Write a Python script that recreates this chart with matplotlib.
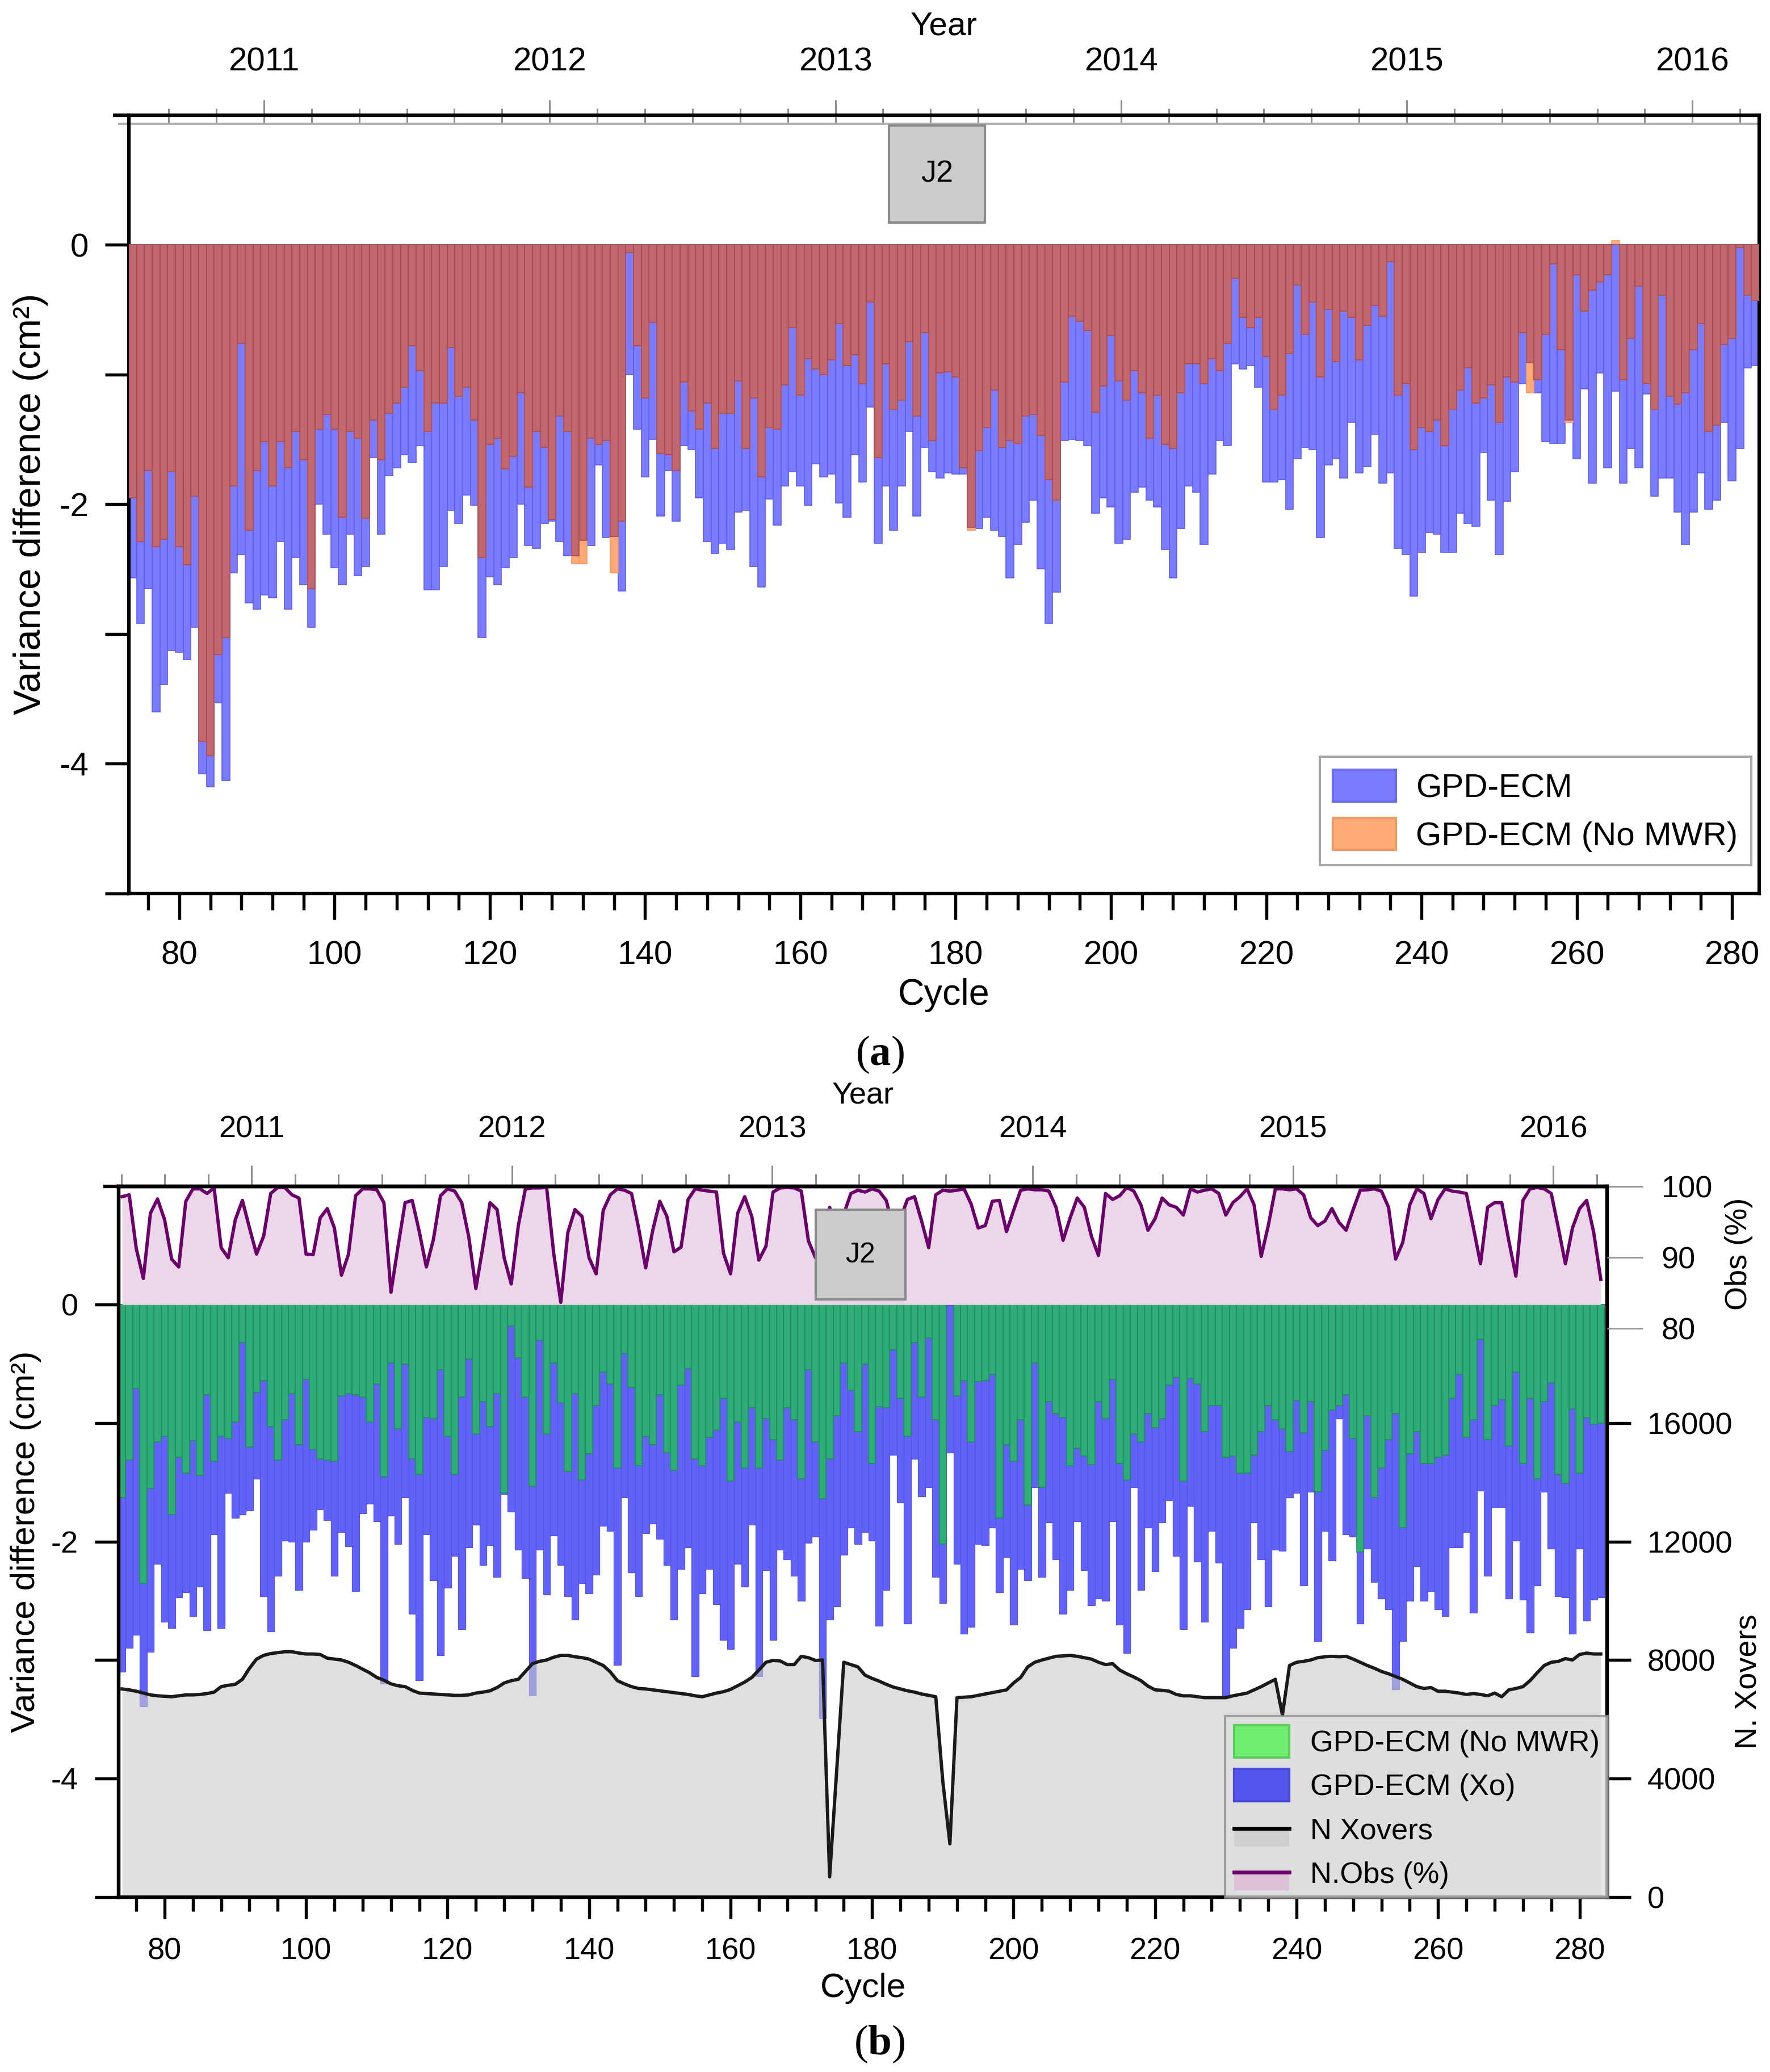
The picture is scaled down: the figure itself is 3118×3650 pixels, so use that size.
import numpy as np
import matplotlib
matplotlib.use("Agg")
import matplotlib.pyplot as plt
from matplotlib.patches import Patch, Rectangle
from matplotlib.lines import Line2D
from matplotlib.legend_handler import HandlerBase
from matplotlib.ticker import FixedLocator, FormatStrFormatter, NullFormatter

plt.rcParams['font.family'] = ['Liberation Sans', 'DejaVu Sans']
plt.rcParams['axes.unicode_minus'] = False
plt.rcParams['mathtext.fontset'] = 'custom'
plt.rcParams['mathtext.rm'] = 'Liberation Serif'
plt.rcParams['mathtext.bf'] = 'Liberation Serif:bold'

# ---------------- data ----------------
cycles = np.arange(74, 284)

# panel (a)
gpd_ecm_a = [
    -2.57, -2.92, -2.65, -3.60, -3.39, -3.13, -3.14, -3.20, -2.95, -4.08,
    -4.18, -3.53, -4.13, -2.53, -2.39, -2.76, -2.81, -2.70, -2.72, -2.29,
    -2.81, -2.41, -2.62, -2.95, -2.00, -2.23, -2.49, -2.62, -2.23, -2.55,
    -2.48, -1.64, -2.23, -1.78, -1.72, -1.62, -1.68, -1.55, -2.66, -2.66,
    -2.48, -2.05, -2.15, -1.93, -2.01, -3.03, -2.56, -2.62, -2.49, -2.41,
    -2.00, -2.32, -2.34, -2.15, -2.13, -2.29, -2.40, -2.40, -2.28, -2.32,
    -1.70, -2.26, -2.25, -2.67, -1.00, -1.42, -1.79, -1.50, -2.09, -1.74,
    -2.13, -1.55, -1.58, -1.95, -2.29, -2.38, -2.30, -2.35, -2.06, -2.05,
    -2.48, -2.64, -1.96, -2.16, -1.86, -1.75, -1.86, -2.01, -1.69, -1.79,
    -1.77, -1.99, -2.10, -1.62, -1.83, -1.25, -2.30, -1.86, -2.20, -1.86,
    -1.44, -2.09, -1.56, -1.75, -1.80, -1.76, -1.77, -1.77, -2.18, -2.19,
    -2.10, -2.20, -2.25, -2.57, -2.31, -2.14, -1.97, -2.50, -2.92, -2.68,
    -1.51, -1.50, -1.51, -1.55, -2.07, -1.95, -2.02, -2.30, -2.27, -1.91,
    -1.87, -1.97, -2.02, -2.35, -2.57, -2.19, -1.86, -1.91, -2.31, -1.77,
    -1.51, -1.55, -0.92, -0.96, -0.93, -1.10, -1.83, -1.83, -1.81, -2.04,
    -1.65, -1.56, -1.58, -2.26, -1.70, -1.65, -1.80, -1.37, -1.76, -1.71,
    -1.46, -1.84, -1.76, -2.34, -2.39, -2.71, -2.37, -2.22, -2.23, -2.37,
    -2.37, -2.07, -2.15, -2.17, -1.60, -1.97, -2.39, -1.98, -1.75, -1.07,
    -0.91, -1.14, -1.52, -1.53, -1.53, -1.35, -1.65, -1.11, -1.84, -0.99,
    -1.72, -1.13, -1.84, -1.57, -1.72, -1.15, -1.94, -1.80, -1.80, -2.06,
    -2.31, -2.06, -1.76, -2.04, -1.97, -1.37, -1.82, -1.57, -0.95, -0.93,
]
gpd_ecm_nomwr_a = [
    -1.95, -2.29, -1.74, -2.33, -2.27, -1.75, -2.33, -2.47, -1.94, -3.83,
    -3.94, -3.16, -3.03, -1.86, -0.76, -2.20, -1.74, -1.52, -1.86, -1.52,
    -1.72, -1.44, -1.66, -2.65, -1.42, -1.31, -1.42, -2.10, -1.44, -1.49,
    -2.11, -1.35, -1.66, -1.30, -1.22, -1.10, -0.78, -0.97, -1.44, -1.22,
    -1.22, -0.79, -1.17, -1.10, -1.35, -2.41, -1.54, -1.49, -1.73, -1.63,
    -1.14, -1.87, -1.44, -1.56, -2.12, -1.32, -1.44, -2.46, -2.46, -1.49,
    -1.54, -1.51, -2.53, -2.13, -0.06, -0.78, -1.18, -0.60, -1.61, -1.62,
    -1.74, -1.06, -1.28, -1.42, -1.22, -1.57, -1.30, -1.30, -1.05, -1.57,
    -1.18, -1.79, -1.41, -1.42, -1.08, -0.64, -1.16, -0.88, -0.96, -1.00,
    -0.89, -0.61, -0.93, -0.85, -1.07, -0.44, -1.64, -0.92, -1.27, -1.20,
    -0.75, -1.32, -0.68, -1.51, -0.99, -0.98, -1.02, -1.72, -2.20, -1.59,
    -1.41, -1.12, -1.56, -1.51, -1.53, -1.32, -1.31, -1.47, -1.81, -1.97,
    -1.06, -0.55, -0.59, -0.66, -1.29, -1.09, -0.70, -1.05, -1.20, -0.97,
    -1.14, -1.49, -1.16, -1.54, -1.57, -1.14, -0.92, -0.92, -1.07, -0.88,
    -0.97, -0.76, -0.26, -0.56, -0.64, -0.56, -0.86, -1.27, -1.16, -0.84,
    -0.31, -0.69, -0.44, -1.02, -0.50, -0.90, -0.51, -0.56, -0.89, -0.62,
    -0.47, -0.55, -0.13, -1.16, -1.07, -1.58, -1.41, -1.44, -1.35, -1.55,
    -1.27, -1.12, -0.95, -1.22, -1.18, -1.08, -1.37, -1.02, -1.06, -0.68,
    -1.14, -1.04, -0.69, -0.15, -0.81, -1.37, -0.23, -0.51, -0.35, -0.29,
    -0.23, 0.03, -1.04, -0.72, -0.32, -1.07, -1.27, -0.39, -1.17, -1.23,
    -1.14, -0.81, -0.61, -1.44, -1.39, -0.77, -0.72, -0.02, -0.39, -0.43,
]

# panel (b)
gpd_ecm_nomwr_b = [
    -1.63, -1.31, -0.71, -2.35, -1.55, -1.16, -1.11, -1.77, -1.29, -1.42,
    -1.15, -1.44, -0.76, -1.32, -1.11, -1.13, -0.99, -0.32, -1.20, -0.74,
    -0.64, -1.03, -1.31, -0.97, -0.75, -1.18, -0.63, -1.22, -1.30, -1.31,
    -1.32, -0.77, -0.75, -0.76, -0.78, -0.99, -0.67, -1.45, -0.49, -1.05,
    -0.50, -1.30, -1.43, -0.95, -0.96, -0.55, -1.11, -1.43, -0.78, -0.46,
    -1.09, -0.82, -1.03, -0.75, -1.59, -0.18, -0.45, -0.78, -1.53, -0.30,
    -1.09, -0.49, -0.83, -1.41, -0.75, -1.48, -1.26, -0.85, -0.57, -0.67,
    -1.38, -0.41, -0.70, -1.36, -1.11, -1.18, -0.76, -1.25, -1.40, -0.68,
    -0.54, -1.30, -1.36, -1.12, -1.06, -0.79, -1.49, -0.99, -1.38, -0.87,
    -1.38, -0.96, -1.14, -1.31, -0.87, -0.97, -1.47, -0.55, -1.16, -1.64,
    -1.30, -0.94, -0.49, -0.72, -1.07, -0.50, -1.34, -0.86, -0.87, -0.38,
    -0.79, -1.11, -0.32, -0.78, -0.28, -0.97, -2.02, 0.03, -0.77, -0.64,
    -1.16, -0.65, -0.64, -0.59, -1.80, -1.18, -1.32, -0.97, -1.69, -0.49,
    -1.54, -0.82, -0.92, -0.95, -1.36, -1.21, -1.28, -1.35, -0.82, -0.96,
    -0.63, -1.34, -1.48, -1.09, -1.16, -0.92, -1.04, -0.96, -0.68, -0.61,
    -1.49, -0.62, -0.67, -1.07, -0.85, -0.85, -1.29, -1.28, -1.42, -1.42,
    -1.27, -1.07, -0.85, -0.97, -1.05, -1.24, -0.81, -1.08, -0.82, -1.58,
    -1.23, -0.89, -0.85, -0.76, -1.13, -2.09, -0.94, -1.63, -1.38, -1.14,
    -0.92, -1.88, -1.26, -1.07, -1.34, -1.34, -1.29, -1.27, -0.79, -0.59,
    -1.12, -0.97, -0.29, -1.14, -0.85, -0.80, -1.19, -0.57, -1.34, -0.79,
    -1.47, -0.82, -0.66, -1.43, -1.51, -0.88, -1.42, -0.95, -1.01, -1.00,
]
gpd_ecm_xo_b = [
    -3.10, -2.90, -2.79, -3.39, -2.93, -2.19, -2.68, -2.73, -2.47, -2.43,
    -2.63, -2.38, -2.75, -1.94, -2.73, -1.59, -1.80, -1.77, -1.74, -1.47,
    -2.46, -2.76, -2.29, -1.99, -2.00, -2.41, -2.00, -1.90, -1.73, -1.82,
    -2.29, -1.92, -2.04, -2.42, -1.76, -1.68, -1.83, -3.20, -1.78, -2.02,
    -1.63, -2.61, -3.17, -1.94, -2.33, -2.96, -2.39, -2.12, -2.74, -2.05,
    -1.86, -2.20, -2.03, -2.30, -1.60, -1.75, -2.07, -2.31, -3.30, -2.07,
    -2.45, -1.95, -2.20, -2.46, -2.66, -2.35, -2.44, -2.28, -1.87, -1.91,
    -3.04, -1.63, -2.26, -2.46, -1.93, -1.85, -1.98, -2.20, -2.66, -2.23,
    -2.05, -3.14, -2.44, -2.23, -2.53, -2.83, -2.91, -2.19, -2.38, -1.86,
    -3.14, -2.24, -2.83, -2.07, -2.15, -2.29, -2.50, -2.01, -1.96, -3.49,
    -2.66, -2.55, -2.11, -1.88, -2.02, -1.92, -1.99, -2.71, -2.41, -1.27,
    -1.67, -2.69, -1.30, -1.62, -1.54, -2.30, -2.52, -1.25, -2.19, -2.78,
    -2.72, -2.02, -2.03, -1.88, -2.43, -2.13, -2.70, -2.23, -2.33, -1.54,
    -2.30, -1.84, -2.15, -2.61, -2.41, -1.83, -2.24, -2.54, -2.48, -2.50,
    -1.83, -2.70, -2.94, -1.54, -2.41, -1.88, -2.25, -1.84, -1.65, -2.12,
    -2.74, -1.70, -2.17, -2.68, -1.91, -2.18, -3.31, -2.90, -2.73, -2.57,
    -1.84, -2.15, -2.55, -2.07, -2.08, -1.63, -1.59, -2.37, -1.58, -2.84,
    -1.91, -2.16, -0.96, -1.94, -1.96, -2.69, -2.06, -2.34, -2.48, -2.57,
    -3.25, -2.84, -2.50, -2.21, -2.50, -2.42, -2.57, -2.63, -2.05, -2.05,
    -1.92, -2.60, -1.57, -2.29, -1.71, -1.71, -2.48, -1.99, -2.49, -2.77,
    -2.37, -1.58, -2.06, -2.46, -2.47, -2.78, -2.06, -2.67, -2.49, -2.47,
]
n_xovers = [
    7023, 6992, 6946, 6884, 6822, 6791, 6775, 6760, 6791, 6822,
    6822, 6837, 6868, 6915, 7101, 7148, 7179, 7349, 7722, 8032,
    8156, 8218, 8250, 8281, 8281, 8234, 8203, 8203, 8187, 8063,
    8032, 8001, 7924, 7815, 7691, 7567, 7411, 7318, 7194, 7132,
    7101, 6977, 6884, 6868, 6853, 6837, 6822, 6806, 6806, 6822,
    6884, 6915, 6961, 7070, 7225, 7303, 7349, 7613, 7877, 7955,
    8001, 8094, 8156, 8156, 8110, 8079, 8032, 7924, 7815, 7598,
    7303, 7194, 7101, 7039, 7023, 6992, 6961, 6930, 6899, 6868,
    6837, 6791, 6760, 6822, 6884, 6930, 7008, 7132, 7256, 7411,
    7660, 7924, 7986, 7970, 7846, 7846, 8125, 8079, 7986, 8001,
    676, 4276, 7924, 7846, 7768, 7489, 7380, 7287, 7179, 7086,
    7023, 6961, 6915, 6853, 6806, 6760, 3900, 1793, 6729, 6744,
    6760, 6806, 6853, 6899, 6946, 6992, 7225, 7411, 7768, 7924,
    8001, 8063, 8125, 8141, 8156, 8125, 8079, 8032, 7924, 7846,
    7877, 7660, 7536, 7427, 7303, 7117, 6992, 6977, 6946, 6837,
    6791, 6791, 6760, 6729, 6729, 6729, 6729, 6791, 6837, 6884,
    6992, 7101, 7225, 7349, 6139, 7815, 7924, 7955, 8001, 8079,
    8110, 8125, 8110, 8125, 8032, 7924, 7815, 7722, 7613, 7536,
    7442, 7349, 7225, 7101, 7039, 7070, 6946, 6946, 6915, 6884,
    6837, 6868, 6837, 6791, 6884, 6760, 6992, 7039, 7101, 7303,
    7567, 7815, 7924, 7955, 8048, 8001, 8187, 8234, 8203, 8203,
]
obs_pct = [
    98.53, 98.79, 91.22, 87.02, 96.20, 98.21, 95.30, 89.74, 88.64, 97.88,
    99.63, 99.63, 98.98, 99.76, 91.35, 89.93, 95.30, 98.01, 94.13, 90.45,
    92.97, 98.98, 99.82, 99.82, 98.79, 98.34, 90.45, 90.38, 95.56, 96.85,
    94.13, 87.47, 90.45, 98.66, 99.63, 99.63, 99.50, 97.69, 85.08, 91.55,
    97.69, 98.01, 93.62, 88.64, 92.52, 98.66, 99.63, 99.31, 97.69, 92.84,
    85.60, 91.55, 97.69, 96.72, 89.93, 86.24, 94.46, 99.63, 99.76, 99.76,
    99.82, 90.58, 83.66, 93.49, 96.72, 95.75, 89.93, 87.67, 96.59, 98.79,
    99.63, 99.44, 98.98, 94.13, 88.51, 93.81, 97.88, 95.75, 90.77, 91.42,
    98.14, 99.63, 99.44, 99.31, 99.18, 90.58, 87.67, 96.20, 98.53, 95.75,
    89.61, 91.55, 99.18, 99.76, 99.82, 99.76, 99.31, 92.32, 89.93, 90.90,
    97.04, 94.13, 96.07, 98.98, 99.44, 99.18, 99.63, 99.31, 98.01, 94.13,
    95.43, 98.14, 98.53, 95.10, 91.35, 98.79, 99.44, 99.31, 99.44, 99.63,
    97.50, 94.13, 94.46, 97.88, 98.01, 93.62, 96.59, 99.44, 99.63, 99.50,
    99.50, 99.31, 97.04, 92.39, 95.56, 98.34, 97.04, 92.97, 90.25, 98.98,
    98.14, 98.66, 99.82, 99.31, 97.37, 93.81, 95.43, 98.34, 97.37, 97.04,
    95.94, 99.63, 99.18, 99.44, 99.63, 98.98, 95.94, 97.69, 98.53, 99.63,
    97.37, 90.12, 94.46, 99.63, 99.63, 99.50, 99.63, 98.79, 95.56, 94.46,
    95.10, 96.85, 94.91, 93.81, 96.72, 99.44, 99.50, 99.63, 99.31, 97.04,
    89.74, 92.06, 97.37, 99.63, 98.98, 95.43, 98.14, 99.63, 99.31, 99.18,
    98.98, 94.13, 89.09, 97.04, 97.69, 97.69, 92.32, 87.34, 98.01, 99.63,
    99.82, 99.63, 98.98, 94.13, 89.09, 94.13, 96.85, 98.01, 93.49, 86.89,
]
year_labels = [2011, 2012, 2013, 2014, 2015, 2016]

gpd_ecm_a = np.array(gpd_ecm_a)
gpd_ecm_nomwr_a = np.array(gpd_ecm_nomwr_a)

# ---------------- figure ----------------
W, H, DPI = 3118, 3650, 300
fig = plt.figure(figsize=(W / DPI, H / DPI), dpi=DPI)

BLUE_A = '#7b7bff'
ORANGE_A = '#ffab78'
RED_A = '#c0676f'
GREEN_B = '#2fad78'
BLUE_B = '#6262f8'


def style_common(ax, tick_size, xpad, ypad):
    for s in ['left', 'right', 'top', 'bottom']:
        ax.spines[s].set_linewidth(1.5)
        ax.spines[s].set_color('black')
    ax.xaxis.set_major_locator(FixedLocator(np.arange(80, 281, 20)))
    ax.xaxis.set_minor_locator(FixedLocator(np.arange(76, 284, 4)))
    ax.yaxis.set_major_locator(FixedLocator([-4, -2, 0]))
    ax.yaxis.set_minor_locator(FixedLocator([-5, -3, -1]))
    ax.tick_params(axis='x', which='major', direction='out', length=11, width=1.3,
                   labelsize=tick_size, pad=xpad, top=False)
    ax.tick_params(axis='x', which='minor', direction='out', length=7, width=1.3, top=False)
    ax.tick_params(axis='y', which='both', direction='out', length=10, width=1.3,
                   labelsize=tick_size, pad=ypad, right=False)


def year_axis(ax, loc, offset, xlim, size, pad, maj, mnr, color):
    c2y = lambda c: 2011 + (np.asarray(c) - offset) / 36.8
    y2c = lambda y: offset + (np.asarray(y) - 2011) * 36.8
    sec = ax.secondary_xaxis(loc, functions=(c2y, y2c))
    lo, hi = float(c2y(xlim[0])), float(c2y(xlim[1]))
    minor = np.arange(np.ceil(lo * 6) / 6, hi, 1 / 6)
    minor = [m for m in minor if abs(m - round(m)) > 1e-6]
    sec.xaxis.set_major_locator(FixedLocator(year_labels))
    sec.xaxis.set_minor_locator(FixedLocator(minor))
    sec.xaxis.set_major_formatter(FormatStrFormatter('%d'))
    sec.xaxis.set_minor_formatter(NullFormatter())
    sec.tick_params(which='major', direction='out', length=maj, width=0.7,
                    color='#8c8c8c', labelsize=size, pad=pad)
    sec.tick_params(which='minor', direction='out', length=mnr, width=0.7, color='#8c8c8c')
    sec.spines['top'].set_color(color)
    return sec


# ================= panel (a) =================
XLIM_A = (73.5, 283.5)
axA = fig.add_axes([0.0728, 0.5689, 0.9211, 0.3756])
axA.axhline(0, color='#c8c8c8', lw=0.8, zorder=1)
axA.bar(cycles, gpd_ecm_a, width=1.0, color=BLUE_A, edgecolor='#5e5eee', linewidth=0.4, zorder=2)
axA.bar(cycles, gpd_ecm_nomwr_a, width=1.0, color=ORANGE_A, edgecolor='#f39a66', linewidth=0.4, zorder=3)
overlap_a = np.minimum(0, np.maximum(gpd_ecm_a, gpd_ecm_nomwr_a))
axA.bar(cycles, overlap_a, width=1.0, color=RED_A, edgecolor='#a84a53', linewidth=0.4, zorder=4)

axA.set_xlim(*XLIM_A)
axA.set_ylim(-5, 1)
style_common(axA, 14, 9, 7)
axA.set_xlabel('Cycle', fontsize=15.5, labelpad=3)
axA.set_ylabel('Variance difference (cm²)', fontsize=16, labelpad=4.5)

secA = year_axis(axA, 0.989, 90.9, XLIM_A, 14, 9.5, 10, 6.5, '#b0b0b0')
secA.spines['top'].set_linewidth(0.9)
secA.set_xlabel('Year', fontsize=14, labelpad=5)
axA.plot([-0.0097, 0], [1, 1], transform=axA.transAxes, color='black', lw=1.5,
         clip_on=False, solid_capstyle='butt')
axA.plot([-0.006, 0], [0.989, 0.989], transform=axA.transAxes, color='#b0b0b0', lw=0.9,
         clip_on=False)

axA.add_patch(Rectangle((171.4, 0.173), 12.4, 0.745, facecolor='#cccccc',
                        edgecolor='#8a8a8a', lw=1.0, zorder=6))
axA.text(177.6, 0.545, 'J2', ha='center', va='center', fontsize=13, zorder=7)

legA = axA.legend([Patch(facecolor=BLUE_A, edgecolor='#6a6af0'),
                   Patch(facecolor=ORANGE_A, edgecolor='#f09a66')],
                  ['GPD-ECM', 'GPD-ECM (No MWR)'],
                  loc='upper left', bbox_to_anchor=(0.7305, 0.1754), borderaxespad=0,
                  fontsize=14, fancybox=False, edgecolor='#aaaaaa', framealpha=1,
                  handlelength=1.9, handleheight=1.1, handletextpad=0.6,
                  borderpad=0.4, labelspacing=0.42)
legA.get_frame().set_linewidth(1.0)
legA.set_zorder(10)

# ================= panel (b) =================
XLIM_B = (73.5, 283.9)
axB = fig.add_axes([0.0670, 0.0845, 0.8410, 0.3430])
axB.axhline(0, color='#7a7a7a', lw=0.6, zorder=1)
axB.bar(cycles, gpd_ecm_xo_b, width=1.0, color=BLUE_B, edgecolor='#5252ec', linewidth=0.3, zorder=2)
axB.bar(cycles, gpd_ecm_nomwr_b, width=1.0, color=GREEN_B, edgecolor='#1f8e5c', linewidth=0.4, zorder=3)
axB.set_xlim(*XLIM_B)
style_common(axB, 13, 8, 7)
axB.tick_params(axis='x', which='major', length=9)
axB.tick_params(axis='x', which='minor', length=6)
axB.set_xlabel('Cycle', fontsize=14.5, labelpad=3)
axB.set_ylabel('Variance difference (cm²)', fontsize=14.5, labelpad=4)

secB = year_axis(axB, 'top', 92.3, XLIM_B, 13, 9, 9, 5.3, 'black')
secB.spines['top'].set_linewidth(1.5)
secB.set_xlabel('Year', fontsize=13, labelpad=5)
axB.plot([-0.0103, 0], [1, 1], transform=axB.transAxes, color='black', lw=1.5,
         clip_on=False, solid_capstyle='butt')

# N Xovers (right axis)
axN = axB.twinx()
axN.fill_between(cycles, 0, n_xovers, color='#cbcbcb', alpha=0.6, lw=0, zorder=1)
axN.plot(cycles, n_xovers, color='#1a1a1a', lw=1.4, zorder=2)
axN.set_yticks([0, 4000, 8000, 12000, 16000])
axN.tick_params(axis='y', direction='out', length=10, width=1.3, labelsize=13, pad=7)
for s in ['left', 'right', 'top', 'bottom']:
    axN.spines[s].set_linewidth(1.5)

# N.Obs (%) (right axis)
axO = axB.twinx()
for s in ['left', 'right', 'bottom']:
    axO.spines[s].set_visible(False)
axO.spines['top'].set_linewidth(1.5)

yl = (-5, 1)
obs_lim = (0, 100)
obs_at_zero = obs_lim[0] + (0 - yl[0]) / (yl[1] - yl[0]) * (obs_lim[1] - obs_lim[0])
axO.fill_between(cycles, obs_at_zero, obs_pct, color='#ecd6ea', lw=0, zorder=1)
axO.plot(cycles, obs_pct, color='#6b006b', lw=1.4, zorder=2)
axO.set_yticks([80, 90, 100])
axO.tick_params(axis='y', direction='out', length=15, width=0.7, color='#999999',
                labelsize=13, pad=8)

axO.add_patch(Rectangle((172.0, 0.045), 12.7, 0.755, transform=axB.transData,
                        facecolor='#cccccc', edgecolor='#8a8a8a', lw=1.0, zorder=6))
axO.text(178.35, 0.42, 'J2', transform=axB.transData, ha='center', va='center',
         fontsize=12, zorder=7)

axO.text(1.0885, 0.905, 'Obs (%)', rotation=90, transform=axB.transAxes,
         ha='center', va='center', fontsize=13)
axO.text(1.0946, 0.303, 'N. Xovers', rotation=90, transform=axB.transAxes,
         ha='center', va='center', fontsize=13)


class LinePatchHandler(HandlerBase):
    def __init__(self, fc, lc, lw):
        super().__init__()
        self.fc, self.lc, self.lw = fc, lc, lw

    def create_artists(self, legend, orig_handle, xdescent, ydescent, width, height,
                       fontsize, trans):
        x0, y0 = -xdescent, -ydescent
        rect = Rectangle((x0, y0 - 0.05 * height), width, 0.55 * height,
                         facecolor=self.fc, edgecolor='none', transform=trans)
        line = Line2D([x0, x0 + width], [y0 + 0.52 * height] * 2, color=self.lc,
                      lw=self.lw, transform=trans)
        return [rect, line]


h_green = Patch(facecolor='#70ee70', edgecolor='#5ccc5c')
h_blue = Patch(facecolor='#5555ee', edgecolor='#4a4ad8')
h_nx = Line2D([], [], color='black')
h_obs = Line2D([], [], color='#6b006b')
legB = axO.legend([h_green, h_blue, h_nx, h_obs],
                  ['GPD-ECM (No MWR)', 'GPD-ECM (Xo)', 'N Xovers', 'N.Obs (%)'],
                  handler_map={h_nx: LinePatchHandler('#cfcfcf', 'black', 1.6),
                               h_obs: LinePatchHandler('#dcc0d8', '#6b006b', 1.6)},
                  loc='upper left', bbox_to_anchor=(0.7433, 0.2544), borderaxespad=0,
                  fontsize=12.6, fancybox=False, edgecolor='#8a8a8a', facecolor='#dedede',
                  framealpha=0.75, handlelength=1.85, handleheight=1.3,
                  handletextpad=0.7, borderpad=0.3, labelspacing=0.38)
legB.get_frame().set_linewidth(1.0)
legB.set_zorder(10)

# final limits
axB.set_xlim(*XLIM_B)
axB.set_ylim(*yl)
axN.set_ylim(0, 24000)
axO.set_ylim(*obs_lim)

# panel letters
fig.text(0.497, 0.491, r'($\mathbf{a}$)', ha='center', va='center', fontsize=18,
         family='Liberation Serif')
fig.text(0.497, 0.0134, r'($\mathbf{b}$)', ha='center', va='center', fontsize=18,
         family='Liberation Serif')

fig.savefig('out.png', dpi=DPI)
